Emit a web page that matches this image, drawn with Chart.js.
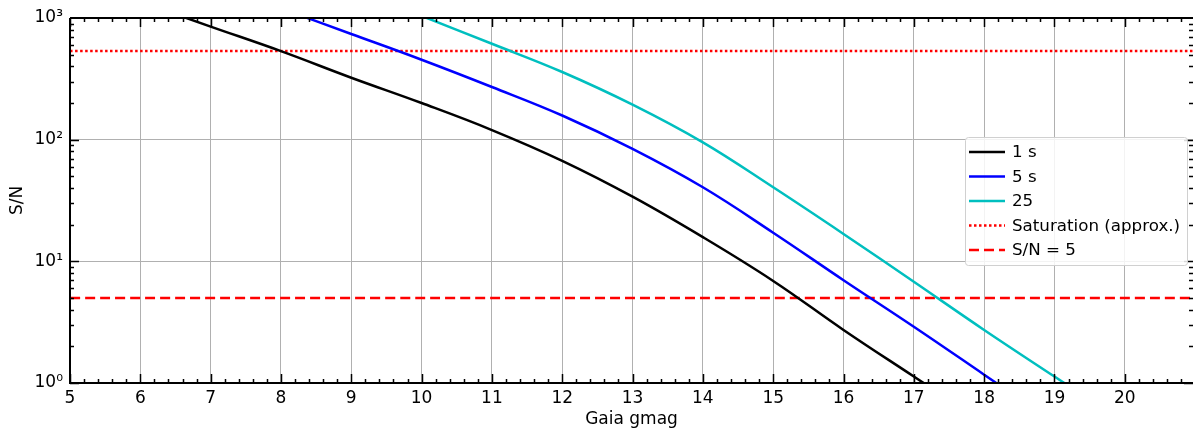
<!DOCTYPE html>
<html>
<head>
<meta charset="utf-8">
<script src="https://cdn.jsdelivr.net/npm/chart.js@4/dist/chart.umd.min.js"></script>
<style>
  html, body { margin: 0; padding: 0; background: #fff; }
  #wrap { width: 1193px; height: 430px; }
</style>
</head>
<body>
<div id="wrap"><canvas id="snChart" width="1193" height="430"></canvas></div>
<script>
// values (end points run past the axes and get clipped)
const mag1s = [6, 7, 8, 9, 10, 11, 12, 13, 14, 15, 16, 17, 18];
const sn1s = [1360, 850, 534, 323, 200, 120, 67, 34, 15.8, 6.9, 2.73, 1.13, 0.47];

const mag5s = [8, 9, 10, 11, 12, 13, 14, 15, 16, 17, 18, 19];
const sn5s = [1200, 739, 454, 271, 158, 84, 40.6, 17.2, 7.0, 2.9, 1.17, 0.47];

const mag25 = [10, 11, 12, 13, 14, 15, 16, 17, 18, 19, 20];
const sn25 = [1040, 614, 360, 194, 95, 40.6, 16.8, 6.8, 2.73, 1.13, 0.47];

const saturationLevel = 536;
const snLimit = 5;

const xMin = 5;
const xMax = 20.97;
const yTicks = [1, 10, 100, 1000];
const yTickLabels = ["10\u2070", "10\u00b9", "10\u00b2", "10\u00b3"];

const FONT = "'DejaVu Sans', sans-serif";
const FONT_SIZE = 17;

function toPoints(xs, ys) {
    return xs.map((x, i) => ({ x: x, y: ys[i] }));
}

// spines + inward ticks like matplotlib
const framePlugin = {
    id: "frame",
    afterDatasetsDraw(chart) {
        const ctx = chart.ctx;
        const a = chart.chartArea;
        const xs = chart.scales.x;
        const ys = chart.scales.y;
        ctx.save();
        ctx.strokeStyle = "#000";

        // x ticks (top + bottom)
        ctx.lineWidth = 1.5;
        for (let i = Math.round(xMin * 5); i <= Math.floor(xMax * 5); i++) {
            const v = i / 5;
            const major = i % 5 === 0;
            const len = major ? 9 : 4;
            const px = Math.round(xs.getPixelForValue(v)) + 0.5;
            ctx.beginPath();
            ctx.moveTo(px, a.bottom);
            ctx.lineTo(px, a.bottom - len);
            ctx.moveTo(px, a.top);
            ctx.lineTo(px, a.top + len);
            ctx.stroke();
        }

        // y ticks (left + right)
        for (let d = 0; d < 3; d++) {
            for (let m = 1; m <= 9; m++) {
                const v = m * Math.pow(10, d);
                const len = m === 1 ? 9 : 4;
                const py = Math.round(ys.getPixelForValue(v)) + 0.5;
                ctx.beginPath();
                ctx.moveTo(a.left, py);
                ctx.lineTo(a.left + len, py);
                ctx.moveTo(a.right, py);
                ctx.lineTo(a.right - len, py);
                ctx.stroke();
            }
        }

        // spines
        ctx.lineWidth = 2;
        ctx.beginPath();
        ctx.moveTo(a.left, a.top);
        ctx.lineTo(a.right, a.top);
        ctx.moveTo(a.left, a.top);
        ctx.lineTo(a.left, a.bottom);
        ctx.moveTo(a.left - 1, a.bottom);
        ctx.lineTo(a.right, a.bottom);
        ctx.stroke();
        ctx.restore();
    }
};

// legend box inside the plot
const legendPlugin = {
    id: "boxLegend",
    afterDraw(chart) {
        const ctx = chart.ctx;
        const bx = 965, by = 137, bw = 222, bh = 128;
        ctx.save();
        ctx.fillStyle = "rgba(255,255,255,0.85)";
        ctx.strokeStyle = "#d0d0d0";
        ctx.lineWidth = 1;
        ctx.beginPath();
        ctx.roundRect(bx + 0.5, by + 0.5, bw, bh, 3);
        ctx.fill();
        ctx.stroke();

        ctx.font = "16.7px " + FONT;
        ctx.textBaseline = "middle";
        chart.data.datasets.forEach((ds, i) => {
            const cy = by + 15 + i * 24.5;
            ctx.strokeStyle = ds.borderColor;
            ctx.lineWidth = 2.5;
            ctx.setLineDash(ds.borderDash || []);
            ctx.beginPath();
            ctx.moveTo(bx + 4, cy);
            ctx.lineTo(bx + 40, cy);
            ctx.stroke();
            ctx.setLineDash([]);
            ctx.fillStyle = "#000";
            ctx.fillText(ds.label, bx + 47, cy + 1);
        });
        ctx.restore();
    }
};

const ctx = document.getElementById("snChart").getContext("2d");

const snChart = new Chart(ctx, {
    type: "line",
    data: {
        datasets: [
            {
                label: "1 s",
                data: toPoints(mag1s, sn1s),
                borderColor: "#000000",
            },
            {
                label: "5 s",
                data: toPoints(mag5s, sn5s),
                borderColor: "#0000ff",
            },
            {
                label: "25",
                data: toPoints(mag25, sn25),
                borderColor: "#00bfbf",
            },
            {
                label: "Saturation (approx.)",
                data: toPoints([xMin, xMax], [saturationLevel, saturationLevel]),
                borderColor: "#ff0000",
                borderDash: [2.5, 2.5],
            },
            {
                label: "S/N = 5",
                data: toPoints([xMin, xMax], [snLimit, snLimit]),
                borderColor: "#ff0000",
                borderDash: [10, 5],
            },
        ].map((ds) => Object.assign({
            borderWidth: 2.5,
            pointRadius: 0,
            fill: false,
            tension: 0.4,
        }, ds)),
    },
    options: {
        responsive: false,
        devicePixelRatio: 1,
        animation: false,
        layout: { padding: { top: 18, right: 0, bottom: 0, left: 0 } },
        plugins: {
            legend: { display: false },
            tooltip: { enabled: false },
        },
        scales: {
            x: {
                type: "linear",
                min: xMin,
                max: xMax,
                afterBuildTicks: (scale) => {
                    const t = [];
                    for (let v = 5; v <= 20; v++) t.push({ value: v });
                    scale.ticks = t;
                },
                afterFit: (scale) => { scale.height = 47; },
                grid: { color: "#b0b0b0", lineWidth: 1, drawTicks: false },
                border: { display: false },
                ticks: {
                    color: "#000",
                    font: { family: FONT, size: FONT_SIZE },
                    padding: 5,
                    maxRotation: 0,
                    autoSkip: false,
                },
                title: {
                    display: true,
                    text: "Gaia gmag",
                    color: "#000",
                    font: { family: FONT, size: FONT_SIZE },
                    padding: { top: 0, bottom: 0 },
                },
            },
            y: {
                type: "logarithmic",
                min: 1,
                max: 1000,
                afterBuildTicks: (scale) => {
                    scale.ticks = yTicks.map((v) => ({ value: v }));
                },
                afterFit: (scale) => { scale.width = 70; },
                grid: { color: "#b0b0b0", lineWidth: 1, drawTicks: false },
                border: { display: false },
                ticks: {
                    color: "#000",
                    font: { family: FONT, size: FONT_SIZE },
                    padding: 7,
                    callback: (value) => yTickLabels[yTicks.indexOf(value)],
                },
                title: {
                    display: true,
                    text: "S/N",
                    color: "#000",
                    font: { family: FONT, size: FONT_SIZE },
                    padding: { top: 7, bottom: 0 },
                },
            },
        },
    },
    plugins: [framePlugin, legendPlugin],
});
</script>
</body>
</html>
